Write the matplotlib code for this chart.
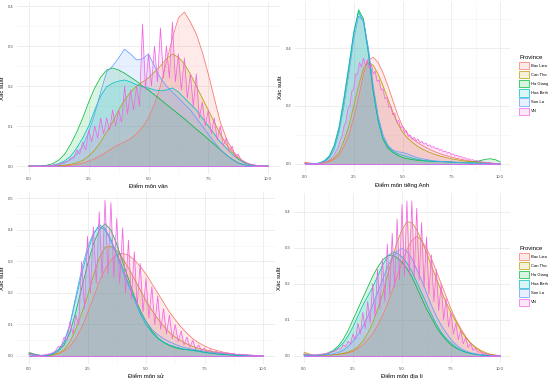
import numpy as np
import matplotlib
matplotlib.use("Agg")
import matplotlib.pyplot as plt
from matplotlib.patches import Patch

plt.rcParams['font.family'] = ['Liberation Sans', 'DejaVu Sans']

# score grid shared by the smooth density curves
score = np.arange(41) * 0.25

provinces = ["Bac Lieu", "Can Tho", "Ha Giang", "Hoa Binh", "Son La", "VN"]
colors = ["#F8766D", "#B79F00", "#00BA38", "#00BFC4", "#619CFF", "#F564E3"]

# ---- Điểm môn văn ----
van_bac_lieu = [0, 0, 0, 0, 0, 0, 0.001, 0.002, 0.004, 0.007, 0.012, 0.018, 0.026, 0.035, 0.045, 0.053, 0.06, 0.068, 0.08, 0.097,
                0.12, 0.155, 0.2, 0.26, 0.32, 0.37, 0.385, 0.36, 0.33, 0.285, 0.23, 0.17, 0.11, 0.07, 0.04, 0.022, 0.01, 0.004, 0.001, 0, 0]
van_can_tho = [0, 0, 0, 0, 0, 0.001, 0.002, 0.004, 0.008, 0.014, 0.025, 0.04, 0.06, 0.085, 0.11, 0.14, 0.165, 0.185, 0.2, 0.21,
               0.22, 0.235, 0.25, 0.268, 0.28, 0.272, 0.255, 0.23, 0.2, 0.17, 0.14, 0.11, 0.08, 0.055, 0.035, 0.02, 0.01, 0.004, 0.001, 0, 0]
van_ha_giang = [0, 0, 0, 0.002, 0.006, 0.015, 0.03, 0.055, 0.085, 0.12, 0.16, 0.195, 0.222, 0.24, 0.245, 0.24, 0.232, 0.222, 0.212, 0.2,
                0.19, 0.178, 0.166, 0.154, 0.142, 0.13, 0.118, 0.105, 0.092, 0.08, 0.067, 0.054, 0.041, 0.028, 0.017, 0.008, 0.003, 0.001, 0, 0, 0]
van_hoa_binh = [0, 0, 0, 0, 0.002, 0.006, 0.013, 0.025, 0.045, 0.07, 0.1, 0.14, 0.175, 0.198, 0.207, 0.212, 0.215, 0.21, 0.203, 0.198,
                0.195, 0.19, 0.188, 0.19, 0.195, 0.185, 0.17, 0.155, 0.14, 0.12, 0.1, 0.08, 0.06, 0.045, 0.03, 0.017, 0.008, 0.003, 0.001, 0, 0]
van_son_la = [0, 0, 0, 0, 0.001, 0.003, 0.008, 0.017, 0.03, 0.05, 0.085, 0.13, 0.185, 0.235, 0.25, 0.27, 0.292, 0.28, 0.265, 0.268,
              0.28, 0.25, 0.22, 0.2, 0.185, 0.17, 0.155, 0.14, 0.12, 0.1, 0.08, 0.06, 0.042, 0.028, 0.016, 0.007, 0.003, 0.001, 0, 0, 0]
van_vn_peaks = [0, 0, 0, 0, 0.002, 0.005, 0.01, 0.02, 0.04, 0.06, 0.09, 0.1, 0.12, 0.12, 0.14, 0.14, 0.2, 0.19, 0.2, 0.355,
                0.28, 0.3, 0.345, 0.3, 0.36, 0.28, 0.27, 0.23, 0.23, 0.16, 0.14, 0.12, 0.1, 0.07, 0.05, 0.03, 0.012, 0.005, 0.002, 0, 0]
van_vn_troughs = [0, 0, 0, 0.001, 0.003, 0.007, 0.012, 0.02, 0.03, 0.04, 0.06, 0.07, 0.08, 0.09, 0.1, 0.11, 0.13, 0.14, 0.15, 0.19,
                  0.2, 0.21, 0.22, 0.22, 0.21, 0.19, 0.17, 0.15, 0.12, 0.1, 0.08, 0.065, 0.05, 0.035, 0.022, 0.015, 0.007, 0.003, 0.001, 0]

# ---- Điểm môn tiếng Anh ----
anh_bac_lieu = [0.006, 0.003, 0.001, 0.002, 0.004, 0.008, 0.016, 0.03, 0.06, 0.1, 0.16, 0.23, 0.31, 0.36, 0.368, 0.35, 0.315, 0.27, 0.22, 0.17,
                0.13, 0.105, 0.088, 0.075, 0.064, 0.055, 0.047, 0.04, 0.034, 0.029, 0.024, 0.02, 0.016, 0.013, 0.01, 0.008, 0.006, 0.004, 0.003, 0.002, 0.001]
anh_can_tho = [0.004, 0.002, 0.001, 0.002, 0.005, 0.01, 0.02, 0.04, 0.08, 0.13, 0.2, 0.27, 0.33, 0.35, 0.34, 0.31, 0.27, 0.225, 0.18, 0.14,
               0.11, 0.09, 0.075, 0.062, 0.052, 0.044, 0.037, 0.031, 0.026, 0.022, 0.018, 0.015, 0.012, 0.01, 0.008, 0.006, 0.005, 0.004, 0.003, 0.002, 0.001]
anh_ha_giang = [0.002, 0.001, 0.001, 0.003, 0.01, 0.025, 0.06, 0.12, 0.22, 0.33, 0.45, 0.532, 0.5, 0.39, 0.25, 0.15, 0.085, 0.055, 0.04, 0.03,
                0.022, 0.018, 0.015, 0.013, 0.011, 0.01, 0.009, 0.008, 0.008, 0.007, 0.007, 0.006, 0.006, 0.006, 0.006, 0.008, 0.012, 0.016, 0.018, 0.015, 0.008]
anh_hoa_binh = [0.002, 0.001, 0.001, 0.004, 0.012, 0.028, 0.065, 0.13, 0.23, 0.34, 0.455, 0.524, 0.49, 0.38, 0.25, 0.15, 0.09, 0.06, 0.045, 0.035,
                0.03, 0.025, 0.02, 0.016, 0.013, 0.011, 0.01, 0.009, 0.008, 0.007, 0.006, 0.005, 0.004, 0.004, 0.003, 0.003, 0.003, 0.003, 0.002, 0.002, 0.001]
anh_son_la = [0.001, 0.001, 0.001, 0.002, 0.008, 0.02, 0.05, 0.11, 0.2, 0.31, 0.43, 0.51, 0.495, 0.4, 0.27, 0.165, 0.1, 0.065, 0.048, 0.042,
              0.04, 0.035, 0.028, 0.022, 0.018, 0.015, 0.012, 0.01, 0.009, 0.008, 0.007, 0.006, 0.005, 0.004, 0.003, 0.003, 0.002, 0.002, 0.002, 0.001, 0.001]
anh_vn_peaks = [0.003, 0.001, 0.0, 0.001, 0.003, 0.006, 0.012, 0.022, 0.045, 0.08, 0.13, 0.19, 0.25, 0.31, 0.35, 0.365, 0.36, 0.345, 0.32, 0.29,
                0.26, 0.23, 0.2, 0.175, 0.15, 0.13, 0.115, 0.1, 0.092, 0.085, 0.078, 0.072, 0.066, 0.06, 0.055, 0.05, 0.045, 0.04, 0.035, 0.03,
                0.026, 0.022, 0.018, 0.015, 0.012, 0.009, 0.007, 0.005, 0.003, 0.002, 0.0]
anh_vn_troughs = [0.002, 0.0, 0.0, 0.002, 0.004, 0.008, 0.015, 0.03, 0.055, 0.095, 0.145, 0.2, 0.26, 0.31, 0.335, 0.34, 0.33, 0.31, 0.285, 0.255,
                  0.225, 0.195, 0.17, 0.145, 0.125, 0.108, 0.095, 0.085, 0.08, 0.073, 0.068, 0.062, 0.057, 0.052, 0.047, 0.042, 0.037, 0.032, 0.028, 0.024,
                  0.02, 0.016, 0.013, 0.01, 0.008, 0.006, 0.004, 0.003, 0.001, 0.0]

# ---- Điểm môn sử ----
su_bac_lieu = [0.012, 0.006, 0.002, 0.001, 0.003, 0.007, 0.015, 0.03, 0.055, 0.09, 0.135, 0.185, 0.235, 0.275, 0.305, 0.322, 0.326, 0.32, 0.305, 0.285,
               0.26, 0.23, 0.2, 0.17, 0.14, 0.115, 0.092, 0.072, 0.055, 0.042, 0.032, 0.024, 0.018, 0.013, 0.009, 0.006, 0.004, 0.003, 0.002, 0.001, 0]
su_can_tho = [0.008, 0.004, 0.001, 0.001, 0.003, 0.008, 0.02, 0.045, 0.085, 0.135, 0.19, 0.255, 0.31, 0.345, 0.348, 0.335, 0.31, 0.28, 0.245, 0.21,
              0.175, 0.145, 0.118, 0.095, 0.075, 0.06, 0.048, 0.038, 0.03, 0.024, 0.019, 0.015, 0.012, 0.009, 0.007, 0.005, 0.004, 0.003, 0.002, 0.001, 0]
su_ha_giang = [0.005, 0.003, 0.001, 0.002, 0.005, 0.015, 0.035, 0.075, 0.14, 0.215, 0.29, 0.355, 0.4, 0.42, 0.4, 0.355, 0.3, 0.245, 0.19, 0.145,
               0.11, 0.08, 0.058, 0.043, 0.033, 0.026, 0.022, 0.02, 0.019, 0.016, 0.012, 0.009, 0.007, 0.005, 0.004, 0.003, 0.002, 0.002, 0.001, 0.001, 0]
su_hoa_binh = [0.01, 0.005, 0.002, 0.003, 0.008, 0.02, 0.045, 0.1, 0.18, 0.26, 0.33, 0.385, 0.417, 0.405, 0.37, 0.325, 0.28, 0.23, 0.18, 0.135,
               0.1, 0.075, 0.056, 0.044, 0.035, 0.029, 0.024, 0.02, 0.017, 0.014, 0.011, 0.009, 0.007, 0.005, 0.004, 0.003, 0.002, 0.002, 0.001, 0.001, 0]
su_son_la = [0.004, 0.002, 0.001, 0.002, 0.006, 0.017, 0.042, 0.1, 0.19, 0.275, 0.345, 0.39, 0.41, 0.4, 0.365, 0.32, 0.27, 0.225, 0.18, 0.14,
             0.11, 0.085, 0.068, 0.055, 0.045, 0.037, 0.03, 0.025, 0.021, 0.018, 0.015, 0.012, 0.01, 0.008, 0.006, 0.005, 0.004, 0.003, 0.002, 0.001, 0.001]
su_vn_peaks = [0.005, 0.003, 0.002, 0.005, 0.01, 0.03, 0.06, 0.11, 0.13, 0.3, 0.38, 0.41, 0.458, 0.495, 0.487, 0.437, 0.407, 0.368, 0.331, 0.294,
               0.246, 0.22, 0.19, 0.15, 0.13, 0.1, 0.08, 0.06, 0.05, 0.035, 0.025, 0.02, 0.015, 0.012, 0.01, 0.008, 0.006, 0.004, 0.003, 0.002, 0]
su_vn_troughs = [0.004, 0.002, 0.003, 0.007, 0.015, 0.03, 0.05, 0.07, 0.1, 0.15, 0.2, 0.23, 0.25, 0.26, 0.25, 0.23, 0.2, 0.18, 0.16, 0.14,
                 0.12, 0.1, 0.085, 0.07, 0.055, 0.045, 0.035, 0.028, 0.022, 0.017, 0.013, 0.01, 0.009, 0.008, 0.007, 0.005, 0.004, 0.003, 0.002, 0.001]

# ---- Điểm môn địa lí ----
dia_bac_lieu = [0.003, 0.002, 0.001, 0.001, 0.001, 0.002, 0.003, 0.004, 0.005, 0.008, 0.012, 0.02, 0.03, 0.044, 0.06, 0.083, 0.11, 0.143, 0.18, 0.22,
                0.26, 0.295, 0.32, 0.332, 0.32, 0.298, 0.27, 0.235, 0.2, 0.165, 0.13, 0.1, 0.075, 0.053, 0.035, 0.022, 0.012, 0.006, 0.003, 0.001, 0]
dia_can_tho = [0.01, 0.005, 0.001, 0.001, 0.001, 0.002, 0.002, 0.004, 0.006, 0.01, 0.015, 0.025, 0.04, 0.062, 0.09, 0.128, 0.17, 0.22, 0.27, 0.315,
               0.35, 0.372, 0.37, 0.35, 0.32, 0.287, 0.25, 0.215, 0.18, 0.148, 0.12, 0.095, 0.07, 0.05, 0.035, 0.024, 0.015, 0.009, 0.004, 0.002, 0]
dia_ha_giang = [0.003, 0.002, 0.001, 0.002, 0.004, 0.008, 0.015, 0.027, 0.045, 0.07, 0.1, 0.13, 0.16, 0.19, 0.22, 0.245, 0.265, 0.277, 0.28, 0.272,
                0.26, 0.242, 0.22, 0.19, 0.16, 0.13, 0.105, 0.08, 0.06, 0.044, 0.03, 0.021, 0.015, 0.01, 0.006, 0.004, 0.002, 0.001, 0.001, 0, 0]
dia_hoa_binh = [0.002, 0.001, 0.001, 0.002, 0.003, 0.006, 0.012, 0.022, 0.035, 0.055, 0.08, 0.11, 0.14, 0.165, 0.19, 0.22, 0.25, 0.275, 0.288, 0.285,
                0.275, 0.258, 0.235, 0.205, 0.175, 0.145, 0.115, 0.088, 0.065, 0.048, 0.035, 0.024, 0.015, 0.01, 0.006, 0.004, 0.002, 0.001, 0.001, 0, 0]
dia_son_la = [0.001, 0.001, 0.001, 0.001, 0.002, 0.003, 0.005, 0.009, 0.015, 0.025, 0.04, 0.058, 0.08, 0.108, 0.14, 0.175, 0.21, 0.245, 0.272, 0.29,
              0.298, 0.29, 0.27, 0.24, 0.21, 0.175, 0.14, 0.11, 0.085, 0.064, 0.045, 0.031, 0.02, 0.013, 0.008, 0.005, 0.003, 0.002, 0.001, 0, 0]
dia_vn_peaks = [0.005, 0.003, 0.002, 0.003, 0.005, 0.008, 0.012, 0.02, 0.03, 0.04, 0.06, 0.09, 0.12, 0.15, 0.2, 0.24, 0.27, 0.31, 0.34, 0.38,
                0.42, 0.43, 0.43, 0.41, 0.37, 0.33, 0.28, 0.24, 0.2, 0.16, 0.12, 0.09, 0.07, 0.05, 0.035, 0.02, 0.01, 0.005, 0.002, 0.001, 0]
dia_vn_troughs = [0.004, 0.002, 0.002, 0.004, 0.006, 0.009, 0.013, 0.018, 0.025, 0.033, 0.045, 0.06, 0.075, 0.09, 0.11, 0.13, 0.15, 0.17, 0.19, 0.21,
                  0.22, 0.225, 0.22, 0.21, 0.19, 0.17, 0.15, 0.125, 0.1, 0.08, 0.06, 0.045, 0.033, 0.023, 0.015, 0.01, 0.006, 0.003, 0.001, 0]


def comb(step, peaks, troughs):
    # VN scores sit on a discrete grid, so its density alternates peak / trough
    px = np.arange(len(peaks)) * step
    tx = px[:-1] + step / 2
    x = np.empty(len(px) + len(tx))
    y = np.empty(len(px) + len(tx))
    x[0::2], x[1::2] = px, tx
    y[0::2], y[1::2] = peaks, troughs
    return x, y


panels = [
    dict(series=[van_bac_lieu, van_can_tho, van_ha_giang, van_hoa_binh, van_son_la],
         vn=comb(0.25, van_vn_peaks, van_vn_troughs), xlabel="Điểm môn văn",
         rect_px=(17, 2, 280, 173.8), ylim=(-0.0195, 0.41), yticks=[0, 0.1, 0.2, 0.3, 0.4],
         yminor=[0.05, 0.15, 0.25, 0.35], legend_top=None),
    dict(series=[anh_bac_lieu, anh_can_tho, anh_ha_giang, anh_hoa_binh, anh_son_la],
         vn=comb(0.2, anh_vn_peaks, anh_vn_troughs), xlabel="Điểm môn tiếng Anh",
         rect_px=(295.2, 1.9, 509.8, 171.7), ylim=(-0.0266, 0.559), yticks=[0, 0.2, 0.4],
         yminor=[0.1, 0.3, 0.5], legend_top=55),
    dict(series=[su_bac_lieu, su_can_tho, su_ha_giang, su_hoa_binh, su_son_la],
         vn=comb(0.25, su_vn_peaks, su_vn_troughs), xlabel="Điểm môn sử",
         rect_px=(17.3, 192.2, 274.7, 363.8), ylim=(-0.0248, 0.52), yticks=[0, 0.1, 0.2, 0.3, 0.4, 0.5],
         yminor=[0.05, 0.15, 0.25, 0.35, 0.45], legend_top=None),
    dict(series=[dia_bac_lieu, dia_can_tho, dia_ha_giang, dia_hoa_binh, dia_son_la],
         vn=comb(0.25, dia_vn_peaks, dia_vn_troughs), xlabel="Điểm môn địa lí",
         rect_px=(294.2, 193.2, 509.8, 363.4), ylim=(-0.0215, 0.4515), yticks=[0, 0.1, 0.2, 0.3, 0.4],
         yminor=[0.05, 0.15, 0.25, 0.35], legend_top=246),
]

W, H = 553, 380
fig = plt.figure(figsize=(W / 100, H / 100), dpi=100)
alpha = 0.15

for p in panels:
    l, t, r, b = p["rect_px"]
    ax = fig.add_axes([l / W, 1 - b / H, (r - l) / W, (b - t) / H])
    curves = [(score, np.array(s)) for s in p["series"]] + [p["vn"]]
    for (x, y), c in zip(curves, colors):
        ax.fill_between(x, 0, y, color=c, alpha=alpha, lw=0)
        ax.plot(x, y, color=c, lw=0.55)
        ax.plot([x[0], x[-1]], [0, 0], color=c, lw=0.55)
    ax.set_xlim(-0.5, 10.5)
    ax.set_ylim(*p["ylim"])
    ax.set_xticks([0, 2.5, 5, 7.5, 10])
    ax.set_xticklabels(["0.0", "2.5", "5.0", "7.5", "10.0"])
    ax.set_xticks([1.25, 3.75, 6.25, 8.75], minor=True)
    ax.set_yticks(p["yticks"])
    ax.set_yticklabels([f"{v:.1f}" for v in p["yticks"]])
    ax.set_yticks(p["yminor"], minor=True)
    ax.grid(True, which="major", color="#ebebeb", lw=0.6)
    ax.grid(True, which="minor", color="#f3f3f3", lw=0.4)
    ax.set_axisbelow(True)
    for s in ax.spines.values():
        s.set_visible(False)
    ax.tick_params(which="both", length=0, labelsize=3, labelcolor="#4d4d4d", pad=2.5)
    ax.set_xlabel(p["xlabel"], fontsize=4.3, labelpad=2)
    ax.set_ylabel("Xác suất", fontsize=4.3, labelpad=2)
    if p["legend_top"] is not None:
        handles = [Patch(facecolor=matplotlib.colors.to_rgba(c, alpha), edgecolor=c, lw=0.5) for c in colors]
        fig.legend(handles, provinces, title="Province", loc="upper left",
                   bbox_to_anchor=(519 / W, 1 - p["legend_top"] / H), bbox_transform=fig.transFigure,
                   frameon=False, fontsize=3, title_fontsize=4.3, handlelength=2.3, handleheight=2.3,
                   labelspacing=0.45, handletextpad=0.5, borderaxespad=0, borderpad=0, alignment="left")

fig.savefig("out.png", dpi=100)
